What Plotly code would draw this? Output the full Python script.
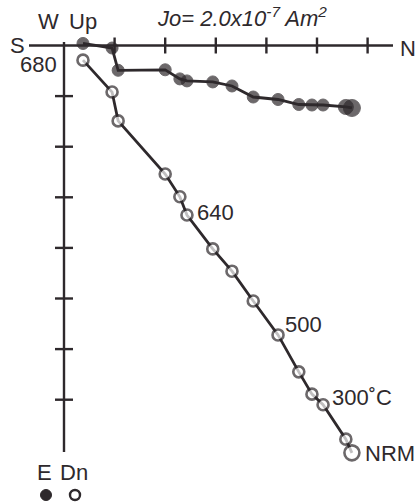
import plotly.graph_objects as go

# Demagnetization steps, NRM first (units of 2.0x10^-7 Am^2 per tick)
north = [5.69, 5.57, 5.12, 4.90, 4.64, 4.23, 3.74, 3.32, 2.94, 2.43, 2.29, 2.00, 1.07, 0.95, 0.375]
east = [1.235, 1.215, 1.176, 1.176, 1.166, 1.067, 1.018, 0.80, 0.72, 0.70, 0.66, 0.48, 0.49, 0.05, -0.04]
down = [8.05, 7.78, 7.10, 6.89, 6.45, 5.72, 5.05, 4.46, 4.02, 3.35, 2.99, 2.54, 1.49, 0.92, 0.29]

# Step labels: (index into the arrays, text, x offset px, y offset px)
step_labels = [(0, "NRM", 11, -1), (2, "300˚C", 7, 7), (5, "500", 5, 10), (9, "640", 8, 3), (14, "680", -24, -4)]

x_ticks = [1, 2, 3, 4, 5, 6]
y_ticks = [1, 2, 3, 4, 5, 6, 7]

INK = "#2e292c"
W, H = 420, 503
UNIT = 50.6          # pixels per tick
OX, OY = 64, 45.5    # pixel position of the origin

x_range = [-OX / UNIT, (W - OX) / UNIT]
y_range = [(H - OY) / UNIT, -OY / UNIT]


def px_x(p):
    return (p - OX) / UNIT


def px_y(p):
    return (p - OY) / UNIT


fig = go.Figure()

shapes = []
line = dict(color=INK, width=2.4)
# axes
shapes.append(dict(type="line", xref="x", yref="y", x0=px_x(29), x1=px_x(393), y0=0, y1=0, line=line))
shapes.append(dict(type="line", xref="x", yref="y", x0=0, x1=0, y0=px_y(42), y1=px_y(452), line=line))
# tick marks crossing the axes
for t in x_ticks:
    shapes.append(dict(type="line", xref="x", yref="y", x0=t, x1=t, y0=-8 / UNIT, y1=8 / UNIT, line=line))
for t in y_ticks:
    shapes.append(dict(type="line", xref="x", yref="y", x0=-9 / UNIT, x1=9 / UNIT, y0=t, y1=t, line=line))

# horizontal projection (N vs E), filled circles
fig.add_trace(go.Scatter(
    x=north, y=east, mode="lines+markers",
    line=dict(color=INK, width=2.8),
    marker=dict(color=INK, size=[17, 15] + [12] * (len(north) - 2),
                line=dict(color=INK, width=1)),
    hoverinfo="skip"))

# vertical projection (N vs Down), open circles
fig.add_trace(go.Scatter(
    x=north, y=down, mode="lines+markers",
    line=dict(color=INK, width=2.8),
    marker=dict(color="white", size=[15] + [11] * (len(north) - 1),
                line=dict(color=INK, width=2.6)),
    hoverinfo="skip"))

# symbol key under "E Dn"
fig.add_trace(go.Scatter(
    x=[px_x(46)], y=[px_y(495)], mode="markers",
    marker=dict(color=INK, size=11, line=dict(color=INK, width=1)), hoverinfo="skip"))
fig.add_trace(go.Scatter(
    x=[px_x(75)], y=[px_y(495)], mode="markers",
    marker=dict(color="white", size=10, line=dict(color=INK, width=2.4)), hoverinfo="skip"))

font = dict(family="Liberation Sans, Arial, sans-serif", size=22, color=INK)
annotations = []
for idx, txt, dx, dy in step_labels:
    annotations.append(dict(
        x=north[idx], y=down[idx], xref="x", yref="y", text=txt, showarrow=False,
        xanchor="left" if dx > 0 else "right", yanchor="middle",
        xshift=dx, yshift=dy, font=font))

fixed = [
    ("S", 17, 45),
    ("N", 408, 48),
    ("W", 48, 21),
    ("Up", 83, 21),
    ("E", 44, 472),
    ("Dn", 74, 472),
]
for txt, x, y in fixed:
    annotations.append(dict(x=px_x(x), y=px_y(y), xref="x", yref="y", text=txt,
                            showarrow=False, xanchor="center", yanchor="middle", font=font))

annotations.append(dict(
    x=px_x(155), y=px_y(17), xref="x", yref="y",
    text="<i>Jo= 2.0x10<sup>-7</sup> Am<sup>2</sup></i>",
    showarrow=False, xanchor="left", yanchor="middle", font=font))

fig.update_layout(
    width=W, height=H,
    margin=dict(l=0, r=0, t=0, b=0),
    paper_bgcolor="white", plot_bgcolor="white",
    showlegend=False,
    xaxis=dict(range=x_range, visible=False, fixedrange=True),
    yaxis=dict(range=y_range, visible=False, fixedrange=True),
    shapes=shapes,
    annotations=annotations,
)

fig.write_html("out.html")
